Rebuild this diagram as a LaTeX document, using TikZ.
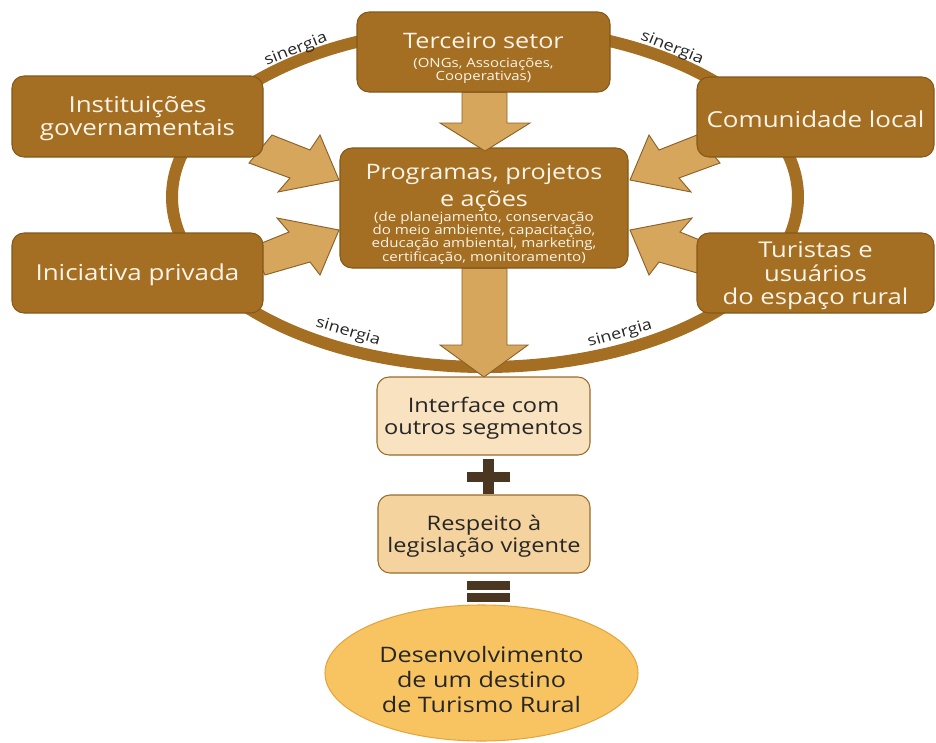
\documentclass[tikz,border=0pt]{standalone}
\usepackage{fontspec}
\setmainfont[FakeStretch=1.18]{Open Sans}
\usetikzlibrary{shapes.geometric}
\definecolor{boxc}{HTML}{A46F22}
\definecolor{bordc}{HTML}{85581A}
\definecolor{arrc}{HTML}{D5A65C}
\definecolor{arrb}{HTML}{8C6027}
\definecolor{wtext}{HTML}{FBF4E8}
\definecolor{lightA}{HTML}{F8E2BF}
\definecolor{lightB}{HTML}{F5D39F}
\definecolor{lightbord}{HTML}{9A6B2C}
\definecolor{ellc}{HTML}{F8C462}
\definecolor{ellb}{HTML}{E3A63C}
\definecolor{opc}{HTML}{4B3621}
\definecolor{dtext}{HTML}{262626}
\begin{document}
\begin{tikzpicture}[x=0.75pt,y=-0.75pt,
  darkbox/.style={draw=bordc, fill=boxc, rounded corners=9pt, line width=0.8pt, inner sep=0pt},
  lightbox/.style={draw=lightbord, rounded corners=9pt, line width=0.8pt, inner sep=0pt},
  wt/.style={text=wtext, inner sep=0pt, align=center},
  dt/.style={text=dtext, inner sep=0pt, align=center},
  bigf/.style={font=\fontsize{16.5}{17.4}\selectfont},
  ringline/.style={draw=boxc, line width=9pt},
  blockarrow/.style={fill=arrc, draw=arrb, line width=0.7pt, line join=miter},
  syn/.style={text=dtext, inner sep=0pt, font=\fontsize{11.5}{12}\selectfont},
  opbar/.style={fill=opc}
]
\useasboundingbox (0,0) rectangle (936,743);

% synergy ring
\draw[ringline] (485,197) ellipse [x radius=234.75pt, y radius=127.5pt];

% side block arrows
\draw[blockarrow] (272,135) -- (310,150) -- (320,135) -- (339,180) -- (278,192) -- (290,178) -- (249,163) -- cycle;
\draw[blockarrow] (252,247) -- (289,232) -- (277,218) -- (339,230) -- (320,275) -- (310,262) -- (265,275) -- cycle;
\draw[blockarrow] (697,135) -- (659,150) -- (649,135) -- (630,180) -- (691,192) -- (679,178) -- (720,163) -- cycle;
\draw[blockarrow] (717,247) -- (680,232) -- (692,218) -- (630,230) -- (649,275) -- (659,262) -- (704,275) -- cycle;

% boxes
\node[darkbox, minimum width=189.75pt, minimum height=60pt] (terc) at (483.5,52) {};
\node[wt, font=\fontsize{16}{18}\selectfont] (tercA) at (483.5,41) {Terceiro setor};
\node[wt, font=\fontsize{9.5}{10}\selectfont] (tercB) at (483.5,71) {(ONGs, Associações,\\Cooperativas)};

\node[darkbox, minimum width=188.25pt, minimum height=60.75pt] (inst) at (137.5,116.5) {};
\node[wt, font=\fontsize{16.5}{17.25}\selectfont] (instT) at (137.5,118.5) {Instituições\\governamentais};
\node[darkbox, minimum width=188.25pt, minimum height=60pt] (inic) at (137.5,273) {};
\node[wt, bigf] (inicT) at (137.5,275) {Iniciativa privada};
\node[darkbox, minimum width=177.75pt, minimum height=60pt] (comu) at (815.5,117) {};
\node[wt, bigf] (comuT) at (815.5,119.5) {Comunidade local};
\node[darkbox, minimum width=177.75pt, minimum height=60pt] (turi) at (815.5,273) {};
\node[wt, font=\fontsize{16.3}{17.6}\selectfont] (turiT) at (815.5,276) {Turistas e\\usuários\\do espaço rural};

\node[darkbox, minimum width=216pt, minimum height=90pt] (prog) at (484,208) {};
\node[wt, font=\fontsize{16}{20.5}\selectfont] (progA) at (484,188) {Programas, projetos\\e ações};
\node[wt, font=\fontsize{9.6}{10}\selectfont] (progB) at (484,238) {(de planejamento, conservação\\do meio ambiente, capacitação,\\educação ambiental, marketing,\\certificação, monitoramento)};

% vertical block arrows
\draw[blockarrow] (462,92.5) -- (507,92.5) -- (507,123) -- (530,123) -- (485,151) -- (440,123) -- (462,123) -- cycle;
\draw[blockarrow] (462,268.5) -- (507,268.5) -- (507,345) -- (528,345) -- (484,377) -- (440,345) -- (462,345) -- cycle;

% synergy labels
\node[syn, rotate=22] (s1) at (296,50) {sinergia};
\node[syn, rotate=-22] (s2) at (672,48) {sinergia};
\node[syn, rotate=-16] (s3) at (348,332) {sinergia};
\node[syn, rotate=16] (s4) at (620,334) {sinergia};

% lower chain
\node[lightbox, fill=lightA, minimum width=159.75pt, minimum height=58.5pt] (inter) at (483.5,416) {};
\node[dt, font=\fontsize{15}{16.5}\selectfont] (interT) at (483.5,418.5) {Interface com\\outros segmentos};
\fill[opbar] (467,471.5) rectangle (510,482);
\fill[opbar] (483,459) rectangle (494,494);
\node[lightbox, fill=lightB, minimum width=159pt, minimum height=58.5pt] (resp) at (484,534) {};
\node[dt, font=\fontsize{15}{16.5}\selectfont] (respT) at (484,536.5) {Respeito à\\legislação vigente};
\fill[opbar] (467,581) rectangle (510,590);
\fill[opbar] (467,593) rectangle (510,601.5);
\node[ellipse, draw=ellb, fill=ellc, line width=0.8pt, inner sep=0pt, minimum width=234.75pt, minimum height=102pt] (dest) at (481.5,673) {};
\node[dt, font=\fontsize{16}{18.75}\selectfont] (destT) at (481.5,679) {Desenvolvimento\\de um destino\\de Turismo Rural};
\end{tikzpicture}
\end{document}
